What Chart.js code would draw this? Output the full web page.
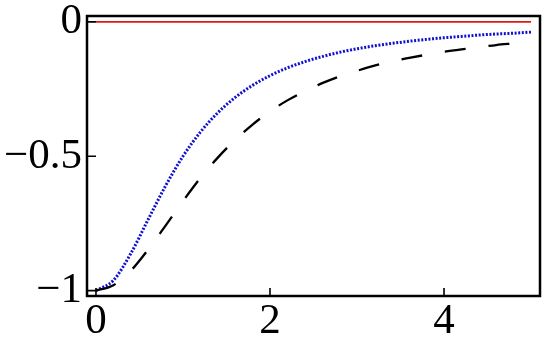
<!DOCTYPE html>
<html>
<head>
<meta charset="utf-8">
<script src="https://cdn.jsdelivr.net/npm/chart.js@4/dist/chart.umd.min.js"></script>
<style>
html,body{margin:0;padding:0;background:#fff;}
#wrap{width:550px;height:344px;position:relative;}
</style>
</head>
<body>
<div id="wrap"><canvas id="c" width="550" height="344"></canvas></div>
<script>
const xValues = [0,0.2,0.4,0.6,0.8,1.0,1.2,1.4,1.6,1.8,2.0,2.2,2.4,2.6,2.8,3.0,3.2,3.4,3.6,3.8,4.0,4.2,4.4,4.6,4.8,5.0];
const dottedBlue = [-1,-0.962,-0.862,-0.735,-0.610,-0.500,-0.410,-0.338,-0.281,-0.236,-0.200,-0.171,-0.148,-0.129,-0.113,-0.100,-0.089,-0.080,-0.072,-0.065,-0.059,-0.054,-0.049,-0.045,-0.042,-0.038];
const dashedBlack = [-1,-0.980,-0.926,-0.847,-0.758,-0.667,-0.581,-0.505,-0.439,-0.382,-0.333,-0.292,-0.258,-0.228,-0.203,-0.182,-0.163,-0.147,-0.134,-0.122,-0.111,-0.102,-0.094,-0.086,-0.080,-0.074];
const redX = [0,5];
const redY = [0,0];
const xTicks = [0,2,4];
const yTicks = [-1,-0.5,0];

const pts = (xs, ys) => xs.map((x,i)=>({x:x, y:ys[i]}));
const fmt = v => String(v).replace('-', '\u2212');

const framePlugin = {
  id:'frame',
  afterDatasetsDraw(chart){
    const {ctx, chartArea:a, scales} = chart;
    ctx.save();
    ctx.strokeStyle = '#000';
    ctx.lineWidth = 1.6;
    ctx.beginPath();
    xTicks.forEach(v=>{
      const px = scales.x.getPixelForValue(v);
      ctx.moveTo(px, a.bottom); ctx.lineTo(px, a.bottom-8);
    });
    yTicks.forEach(v=>{
      const py = scales.y.getPixelForValue(v);
      ctx.moveTo(a.left, py); ctx.lineTo(a.left+9, py);
    });
    ctx.stroke();
    ctx.lineWidth = 2.5;
    ctx.strokeRect(a.left, a.top, a.right-a.left, a.bottom-a.top);
    ctx.restore();
  }
};

const font = {family:'"Liberation Serif", "Times New Roman", serif', size:43};

new Chart(document.getElementById('c'), {
  type:'line',
  data:{
    datasets:[
      {data:pts(redX, redY), borderColor:'#e01818', borderWidth:1.8, pointRadius:0, tension:0},
      {data:pts(xValues, dashedBlack), borderColor:'#000', borderWidth:2.3, borderDash:[21,23], pointRadius:0, cubicInterpolationMode:'monotone'},
      {data:pts(xValues, dottedBlue), borderColor:'#1010d0', borderWidth:3, borderDash:[2,1.6], borderCapStyle:'butt', pointRadius:0, cubicInterpolationMode:'monotone'}
    ]
  },
  options:{
    responsive:false,
    animation:false,
    events:[],
    layout:{padding:{top:16, right:10, left:0, bottom:0}},
    plugins:{legend:{display:false}, tooltip:{enabled:false}},
    scales:{
      x:{
        type:'linear', min:-0.103, max:5.103,
        afterBuildTicks(s){ s.ticks = xTicks.map(v=>({value:v})); },
        afterFit(s){ s.height = 48; s.paddingLeft = 0; s.paddingRight = 0; },
        grid:{display:false, drawTicks:false},
        border:{display:false},
        ticks:{font:font, color:'#000', padding:0, maxRotation:0, callback:v=>fmt(v)}
      },
      y:{
        type:'linear', min:-1.02, max:0.022,
        afterBuildTicks(s){ s.ticks = yTicks.map(v=>({value:v})); },
        afterFit(s){ s.width = 87; s.paddingTop = 0; s.paddingBottom = 0; },
        grid:{display:false, drawTicks:false},
        border:{display:false},
        ticks:{font:font, color:'#000', padding:5, callback:v=>fmt(v)}
      }
    }
  },
  plugins:[framePlugin]
});
</script>
</body>
</html>
